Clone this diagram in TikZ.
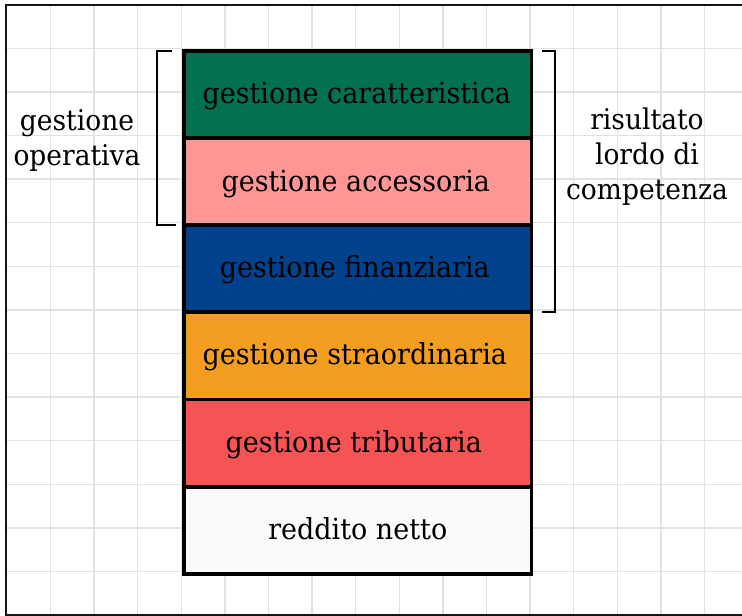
\documentclass[tikz,border=0pt]{standalone}
\usepackage{fontspec}
\setmainfont{DejaVu Serif}[FakeStretch=0.93]
\usetikzlibrary{calc}

\definecolor{gridgray}{HTML}{E2E2E2}
\definecolor{frame}{HTML}{151515}
\definecolor{cgreen}{HTML}{037151}
\definecolor{cpink}{HTML}{FF9696}
\definecolor{cblue}{HTML}{02428C}
\definecolor{corange}{HTML}{F39D21}
\definecolor{cred}{HTML}{F65454}
\definecolor{cwhite}{HTML}{FAFAFA}

\tikzset{
  band/.style={draw=black, line width=3.8pt, minimum width=347.5pt,
    minimum height=87.2pt, inner sep=0pt, outer sep=0pt},
  bandtext/.style={anchor=base, inner sep=0pt, font=\fontsize{29}{35}\selectfont},
  sidetext/.style={align=center, inner sep=0pt, font=\fontsize{28.5}{35}\selectfont},
  brace/.style={draw=black, line width=2pt},
}

\begin{document}
\begin{tikzpicture}[x=1pt, y=-1pt]
\useasboundingbox (0,0) rectangle (742,616);

% squared paper, clipped to the inner frame
\begin{scope}
  \clip (6,4.5) rectangle (742,614.5);
  \foreach \i in {0,...,16}
    \draw[gridgray, line width=1.4pt] ({50.5+43.6*\i},0) -- ({50.5+43.6*\i},616);
  \foreach \j in {0,...,13}
    \draw[gridgray, line width=1.4pt] (0,{48.3+43.6*\j}) -- (742,{48.3+43.6*\j});
\end{scope}

% frame (open on the right)
\draw[frame, line width=2pt] (745,4.5) -- (6,4.5) -- (6,614.5) -- (745,614.5);

% stacked bands
\node[band, fill=cgreen]  (b1) at (357.8, 94.3) {};
\node[band, fill=cpink]   (b2) at (357.8,181.5) {};
\node[band, fill=cblue]   (b3) at (357.8,268.7) {};
\node[band, fill=corange] (b4) at (357.8,355.9) {};
\node[band, fill=cred]    (b5) at (357.8,443.1) {};
\node[band, fill=cwhite]  (b6) at (357.8,530.3) {};

\node[bandtext] (t1) at ($(b1.center)+(-1,9.5)$) {gestione caratteristica};
\node[bandtext] (t2) at ($(b2.center)+(-2,9.5)$) {gestione accessoria};
\node[bandtext] (t3) at ($(b3.center)+(-3,9)$) {gestione finanziaria};
\node[bandtext] (t4) at ($(b4.center)+(-3,9)$) {gestione straordinaria};
\node[bandtext] (t5) at ($(b5.center)+(-4,9)$) {gestione tributaria};
\node[bandtext] (t6) at ($(b6.center)+(0,9)$) {reddito netto};

% left bracket: gestione operativa
\coordinate (lt) at ($(b1.north west)+(-12,0)$);
\coordinate (lb) at ($(b2.south west)+(-8,0)$);
\draw[brace] (lt) -- ++(-15,0) |- (lb);

% right bracket: risultato lordo di competenza
\coordinate (rt) at ($(b1.north east)+(10.5,0)$);
\coordinate (rb) at ($(b3.south east)+(10.5,0)$);
\draw[brace] (rt) -- ++(13,0) |- (rb);

\node[sidetext] (lo) at (77,140) {gestione\\operativa};
\node[sidetext] (ro) at (647,157) {risultato\\lordo di\\competenza};
\end{tikzpicture}
\end{document}
